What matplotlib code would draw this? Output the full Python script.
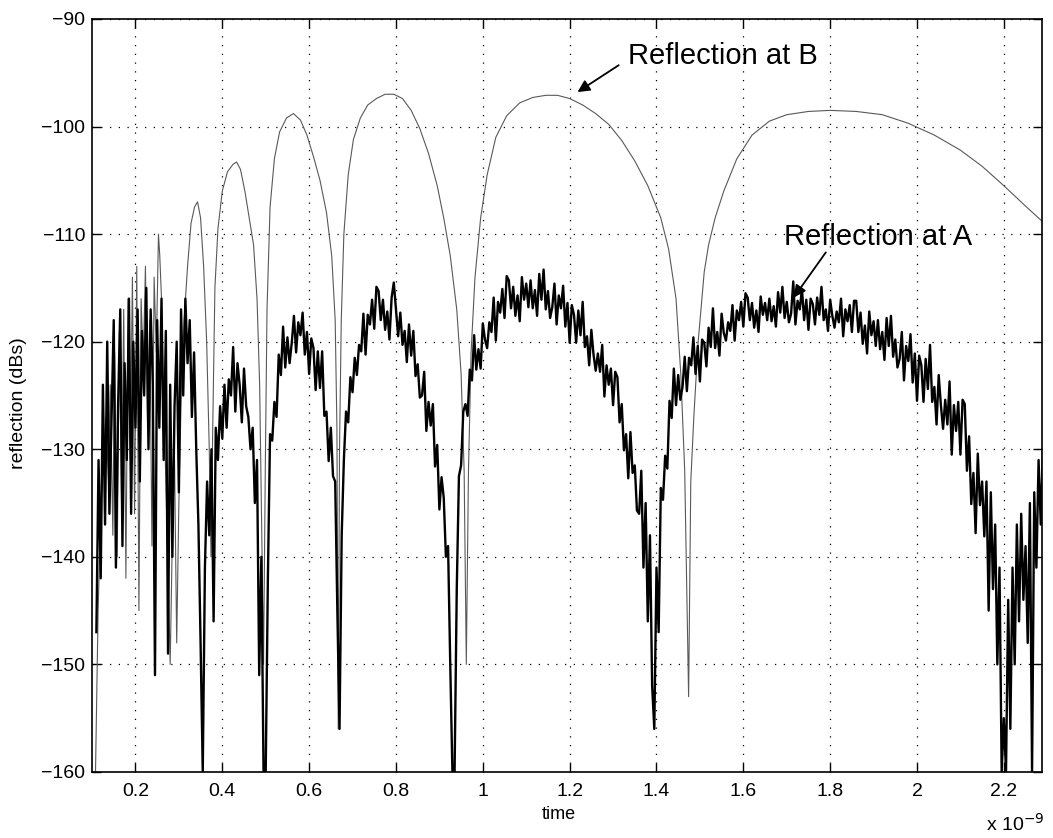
import numpy as np
import matplotlib.pyplot as plt
from matplotlib.ticker import FormatStrFormatter

plt.rcParams['font.family'] = ['Liberation Sans', 'DejaVu Sans']

# Reflection at A: noisy trace sampled every 0.005 ns starting at 0.110 ns (values in dB)
refl_a = [
    -147, -131, -142, -124, -137, -120, -136, -127, -118, -141,
    -126, -117, -139, -122, -131, -116, -136, -120, -128, -117,
    -133, -119, -125, -115, -130, -117, -124, -151, -118, -128,
    -116, -131, -119, -149, -124, -140, -126, -120, -134, -117,
    -125, -116, -122, -118, -127, -121, -130, -137, -148, -160,
    -141, -133, -138, -130, -146, -128, -131, -126, -129, -124,
    -128, -123.5, -125, -120.5, -126.5, -122, -124, -127.5, -122.5, -126,
    -127, -130, -128, -135, -131, -151, -140, -160, -160, -142,
    -128.6, -129.2, -125.6, -127, -121.2, -123.1, -118.6, -122.4, -119.6, -122,
    -120.1, -117.6, -121, -118.2, -119.4, -117.3, -121.2, -119.1, -123, -119.7,
    -120.6, -124.5, -120.9, -124.3, -120.9, -126.9, -126.5, -131.1, -128, -132.5,
    -133, -145, -156, -138, -131, -126.5, -127.5, -123.3, -124.7, -121.5,
    -123.1, -120.3, -120.9, -117.4, -121.2, -117.5, -118.4, -116.1, -118.8, -114.9,
    -115.3, -118, -116.1, -118.9, -117.2, -119.8, -115.9, -114.5, -117, -119.5,
    -117.3, -120.3, -119, -121.9, -118.4, -121.3, -119, -123.2, -122.1, -125.2,
    -125, -122.8, -128.3, -125.6, -127.8, -125.8, -131.6, -129.6, -135.6, -132.6,
    -134.5, -140, -139, -150, -160, -160, -143, -132.5, -131.5, -126.5,
    -125.8, -126.9, -122.6, -123.6, -119.4, -122.6, -120.7, -122.5, -118.3, -119.8,
    -120.6, -118.2, -119.1, -115.9, -119.9, -116.3, -117.3, -115.1, -117.8, -113.9,
    -114.3, -116.9, -114.9, -117.6, -115.7, -118.1, -114, -116.1, -114.6, -116.8,
    -114.3, -116.9, -115.2, -117.6, -113.7, -116.1, -113.3, -117, -115.3, -117.8,
    -116.8, -114.6, -118.4, -115.7, -116.9, -114.8, -118.6, -116.4, -120.1, -116.6,
    -117.5, -120.1, -117.1, -119.4, -116.3, -120.5, -119.5, -122.2, -118.9, -121.2,
    -122.7, -121.1, -122.8, -120.3, -125.1, -122.2, -124, -122.5, -125.9, -122.8,
    -123.3, -127.5, -125.8, -130.1, -128.6, -132.7, -128.4, -132.2, -131.5, -135.7,
    -136, -132, -141, -135, -146, -138, -152, -156, -141, -147,
    -133.6, -134.7, -130.6, -131.8, -125.5, -127.1, -122.5, -125.9, -123.1, -125.4,
    -124.2, -121.4, -124.6, -121.5, -122.2, -119.6, -123, -120.4, -123.7, -119.8,
    -120.1, -122.3, -118.7, -120.5, -116.9, -120.6, -119.1, -121.3, -117.4, -119.2,
    -119.9, -118.2, -119, -116.6, -119.9, -117.1, -118, -116.3, -118.6, -115.5,
    -115.9, -118, -116.4, -118.7, -117.1, -119.1, -115.8, -117.5, -116.4, -118,
    -116, -118.1, -116.7, -118.6, -115.4, -117.3, -114.9, -117.8, -116.3, -118.2,
    -117.4, -114.4, -118.4, -116.2, -117, -115.1, -118, -116.1, -118.9, -116,
    -116.5, -118.4, -115.9, -117.5, -114.9, -118, -117, -119, -116.1, -117.6,
    -118.7, -117.2, -118.2, -116, -119.5, -117, -118.1, -116.6, -119.1, -116.2,
    -116.2, -119.1, -117.3, -120.2, -118.5, -121.1, -117.2, -119.4, -118.1, -120.4,
    -118, -120.7, -119.1, -121.7, -117.8, -120.4, -117.6, -121.4, -119.8, -122.4,
    -121.6, -119.1, -123.6, -120.4, -121.8, -119.3, -123.8, -121.1, -125.5, -121.3,
    -122.2, -125.6, -121.6, -124.4, -120.3, -125.6, -124.2, -127.7, -123.1, -125.9,
    -128.1, -125.4, -127.7, -123.7, -130.5, -125.9, -128.3, -125.6, -130.5, -125.4,
    -125.8, -132, -128.8, -135.1, -132.2, -137.8, -130.4, -135.2, -133, -138.1,
    -133, -145, -134, -143, -137, -150, -141, -160, -155, -160,
    -144, -156, -141, -150, -137, -146, -136, -144, -139, -148,
    -135, -160, -134, -141, -131, -137, -130,
]
t_a = 0.110 + 0.005 * np.arange(len(refl_a))

# Reflection at B: (time in ns, dB)
t_b = [
    0.108, 0.114, 0.120, 0.126, 0.132, 0.138, 0.142, 0.148, 0.152, 0.158,
    0.163, 0.168, 0.173, 0.178, 0.183, 0.188, 0.193, 0.198, 0.203, 0.208,
    0.213, 0.218, 0.223, 0.228, 0.233, 0.238, 0.243, 0.248, 0.253, 0.256,
    0.260, 0.265, 0.270, 0.275, 0.280, 0.285, 0.290, 0.295, 0.300, 0.306,
    0.312, 0.320, 0.328, 0.336, 0.343, 0.350, 0.357, 0.364, 0.370, 0.374,
    0.378, 0.383, 0.390, 0.400, 0.412, 0.425, 0.433, 0.442, 0.452, 0.462,
    0.472, 0.480, 0.486, 0.491, 0.495, 0.499, 0.503, 0.510, 0.520, 0.532,
    0.548, 0.564, 0.580, 0.595, 0.610, 0.625, 0.640, 0.652, 0.660, 0.664,
    0.667, 0.670, 0.674, 0.680, 0.690, 0.702, 0.718, 0.735, 0.755, 0.775,
    0.795, 0.815, 0.835, 0.855, 0.875, 0.895, 0.910, 0.925, 0.940, 0.950,
    0.957, 0.962, 0.967, 0.973, 0.982, 0.995, 1.010, 1.030, 1.055, 1.085,
    1.115, 1.145, 1.172, 1.200, 1.230, 1.260, 1.290, 1.320, 1.350, 1.380,
    1.410, 1.428, 1.445, 1.456, 1.465, 1.474, 1.479, 1.486, 1.496, 1.510,
    1.520, 1.535, 1.555, 1.585, 1.620, 1.660, 1.700, 1.750, 1.800, 1.860,
    1.920, 1.980, 2.040, 2.100, 2.150, 2.200, 2.250, 2.288,
]
refl_b = [
    -160, -145, -136, -131, -127, -133, -124, -138, -121, -140,
    -119, -135, -117, -142, -116, -131, -114, -136, -113, -145,
    -116, -122, -113, -128, -118, -139, -114, -121, -110, -112,
    -116, -125, -133, -141, -150, -138, -131, -148, -135, -124,
    -118, -113, -109, -107.5, -107, -108.5, -113, -120, -130, -140,
    -128, -115, -109.5, -106, -104.2, -103.5, -103.3, -104, -106, -108.5,
    -111, -116, -124, -138, -150, -132, -117, -107.5, -103, -100.5,
    -99.2, -98.8, -99.4, -100.8, -102.8, -105, -108, -112, -118, -128,
    -156, -130, -118, -110, -104.5, -101.2, -99.2, -98, -97.4, -97,
    -97, -97.4, -98.5, -100.2, -102.5, -105.5, -108.5, -112, -117, -123,
    -132, -150, -132, -121, -114, -108.5, -104.5, -101, -99, -97.8,
    -97.3, -97.1, -97.1, -97.4, -98, -98.8, -99.8, -101.3, -103.2, -105.5,
    -108.5, -111.4, -116, -123, -132, -153, -133, -127, -120, -113.5,
    -111, -108.5, -106, -103, -100.8, -99.5, -98.9, -98.6, -98.5, -98.6,
    -98.9, -99.7, -100.8, -102.2, -103.7, -105.5, -107.4, -108.8,
]

x_ticks = [0.2, 0.4, 0.6, 0.8, 1.0, 1.2, 1.4, 1.6, 1.8, 2.0, 2.2]
y_ticks = [-160, -150, -140, -130, -120, -110, -100, -90]

fig = plt.figure(figsize=(10.53, 8.38), dpi=100)
ax = fig.add_axes([0.0874, 0.0788, 0.9022, 0.8986])

ax.plot(t_b, refl_b, color='0.35', linewidth=0.8)
ax.plot(t_a, refl_a, color='black', linewidth=1.7)

ax.set_xlim(0.10, 2.288)
ax.set_ylim(-160, -90)
ax.set_xticks(x_ticks)
ax.set_yticks(y_ticks)
ax.xaxis.set_major_formatter(FormatStrFormatter('%g'))
ax.grid(True, color='black', linestyle=(0, (1, 6)), linewidth=0.9)
ax.tick_params(direction='in', length=6.5, width=1, top=True, right=True, labelsize=14)
ax.tick_params(axis='x', pad=8)
ax.tick_params(axis='y', pad=5)
for s in ax.spines.values():
    s.set_linewidth(1.2)

ax.set_xlabel('time', fontsize=13)
ax.xaxis.set_label_coords(0.491, -0.045)
ax.set_ylabel('reflection (dBs)', fontsize=14)
ax.yaxis.set_label_coords(-0.068, 0.49)
fig.text(0.992, 0.008, r'x 10$^{-9}$', ha='right', va='baseline', fontsize=14)

# annotations
ax.text(1.334, -94.2, 'Reflection at B', fontsize=21, va='baseline', ha='left')
ax.annotate('', xy=(1.218, -96.8), xytext=(1.313, -94.3),
            arrowprops=dict(arrowstyle='-|>', color='black', lw=1.3,
                            mutation_scale=18, shrinkA=0, shrinkB=0))
ax.text(1.693, -111.0, 'Reflection at A', fontsize=21, va='baseline', ha='left')
ax.annotate('', xy=(1.716, -115.9), xytext=(1.79, -111.7),
            arrowprops=dict(arrowstyle='-|>', color='black', lw=1.3,
                            mutation_scale=18, shrinkA=0, shrinkB=0))

fig.savefig('out.png', dpi=100)
